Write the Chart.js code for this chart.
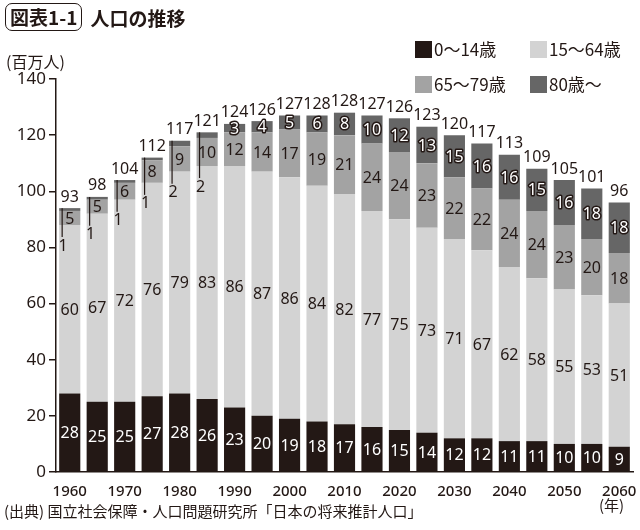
<!DOCTYPE html>
<html>
<head>
<meta charset="utf-8">
<script src="https://cdn.jsdelivr.net/npm/chart.js@4.4.1/dist/chart.umd.min.js"></script>
<style>
body { margin: 0; background: #fff; color: #231815; font-family: "Noto Sans CJK JP", "Noto Sans", sans-serif; }
#wrap { position: relative; width: 640px; height: 530px; overflow: hidden; }
#grafik { position: absolute; left: 0; top: 0; }
.judul { position: absolute; left: 5px; top: 3px; font-size: 19px; font-weight: bold; display: flex; align-items: center; }
.judul .no { border: 1.5px solid #231815; border-radius: 7px; padding: 0 4px; line-height: 26px; margin-right: 8px; }
.satuan { position: absolute; left: 6px; top: 49px; font-size: 16px; }
.legenda { position: absolute; left: 415px; top: 37px; display: grid; grid-template-columns: 115px 110px; row-gap: 11px; font-size: 17px; }
.legenda span { display: flex; align-items: center; line-height: 24px; }
.legenda i { display: inline-block; width: 17px; height: 17px; margin-right: 2px; }
.tahun { position: absolute; left: 599px; top: 494px; font-size: 15px; }
.sumber { position: absolute; left: 4px; top: 500px; font-size: 15px; }
</style>
</head>
<body>
<div id="wrap">
  <canvas id="grafik" width="640" height="530"></canvas>
  <div class="judul"><span class="no">図表1-1</span>人口の推移</div>
  <div class="satuan">(百万人)</div>
  <div class="legenda">
    <span><i style="background:#231815"></i>0〜14歳</span>
    <span><i style="background:#d3d3d3"></i>15〜64歳</span>
    <span><i style="background:#a3a3a3"></i>65〜79歳</span>
    <span><i style="background:#666666"></i>80歳〜</span>
  </div>
  <div class="tahun">(年)</div>
  <div class="sumber">(出典) 国立社会保障・人口問題研究所「日本の将来推計人口」</div>
</div>
<script>
const tahun = ['1960', '1965', '1970', '1975', '1980', '1985', '1990', '1995', '2000', '2005', '2010',
  '2015', '2020', '2025', '2030', '2035', '2040', '2045', '2050', '2055', '2060'];
const usia0_14 = [28, 25, 25, 27, 28, 26, 23, 20, 19, 18, 17, 16, 15, 14, 12, 12, 11, 11, 10, 10, 9];
const usia15_64 = [60, 67, 72, 76, 79, 83, 86, 87, 86, 84, 82, 77, 75, 73, 71, 67, 62, 58, 55, 53, 51];
const usia65_79 = [5, 5, 6, 8, 9, 10, 12, 14, 17, 19, 21, 24, 24, 23, 22, 22, 24, 24, 23, 20, 18];
const usia80 = [1, 1, 1, 1, 2, 2, 3, 4, 5, 6, 8, 10, 12, 13, 15, 16, 16, 15, 16, 18, 18];
const total = [93, 98, 104, 112, 117, 121, 124, 126, 127, 128, 128, 127, 126, 123, 120, 117, 113, 109, 105, 101, 96];
const tickY = [0, 20, 40, 60, 80, 100, 120, 140];

const hitam = '#231815';
const hurufAngka = '"Noto Sans", "Noto Sans CJK JP", sans-serif';

// label angka di setiap segmen + total di atas batang
const labelBatang = {
  id: 'labelBatang',
  afterDatasetsDraw(chart) {
    const ctx = chart.ctx;
    ctx.save();
    ctx.textAlign = 'center';
    ctx.textBaseline = 'middle';
    ctx.font = '16px ' + hurufAngka;
    chart.data.datasets.forEach((ds, d) => {
      const meta = chart.getDatasetMeta(d);
      meta.data.forEach((bar, i) => {
        const v = ds.data[i];
        const p = bar.getProps(['x', 'y', 'base', 'width'], true);
        const tengah = (p.y + p.base) / 2;
        if (d === 0) {
          ctx.fillStyle = '#fff';
          ctx.fillText(v, p.x, tengah + 1);
        } else if (d === 1 || d === 2) {
          ctx.fillStyle = hitam;
          ctx.fillText(v, p.x, tengah + 1);
        } else {
          if (v <= 2) {
            // garis penunjuk untuk nilai kecil
            const bawah65 = chart.getDatasetMeta(1).data[i].y;
            const ly = bawah65 + 21;
            const lx = p.x - p.width / 2 + 3;
            ctx.strokeStyle = hitam;
            ctx.lineWidth = 1.2;
            ctx.beginPath();
            ctx.moveTo(lx, p.y);
            ctx.lineTo(lx, ly - 9);
            ctx.stroke();
            ctx.fillStyle = hitam;
            ctx.fillText(v, lx + 1, ly);
          } else {
            ctx.lineWidth = 3;
            ctx.lineJoin = 'round';
            ctx.strokeStyle = hitam;
            ctx.strokeText(v, p.x, tengah + 1);
            ctx.fillStyle = '#fff';
            ctx.fillText(v, p.x, tengah + 1);
          }
          ctx.fillStyle = hitam;
          ctx.fillText(total[i], p.x, p.y - 11);
        }
      });
    });
    ctx.restore();
  }
};

const ctx = document.getElementById('grafik').getContext('2d');
const chart = new Chart(ctx, {
  type: 'bar',
  data: {
    labels: tahun,
    datasets: [
      { label: '0〜14歳', data: usia0_14, backgroundColor: hitam },
      { label: '15〜64歳', data: usia15_64, backgroundColor: '#d3d3d3' },
      { label: '65〜79歳', data: usia65_79, backgroundColor: '#a3a3a3' },
      { label: '80歳〜', data: usia80, backgroundColor: '#666666' }
    ]
  },
  options: {
    responsive: false,
    animation: false,
    devicePixelRatio: 1,
    barPercentage: 0.77,
    categoryPercentage: 1,
    layout: { padding: { top: 79, right: 7, left: 0, bottom: 0 } },
    plugins: {
      legend: { display: false },
      tooltip: { enabled: false }
    },
    scales: {
      x: {
        stacked: true,
        grid: { display: false },
        border: { display: true, color: hitam, width: 1.5 },
        ticks: {
          autoSkip: false,
          maxRotation: 0,
          color: hitam,
          padding: 3,
          font: { family: hurufAngka, size: 15, weight: '500' },
          callback: (v, i) => (i % 2 === 0 ? tahun[i] : '')
        },
        afterFit(s) { s.height = 58; }
      },
      y: {
        stacked: true,
        min: 0,
        max: 140,
        afterBuildTicks(s) { s.ticks = tickY.map(v => ({ value: v })); },
        grid: { drawOnChartArea: false, tickLength: 7, color: hitam, lineWidth: 1.5 },
        border: { color: hitam, width: 1.5 },
        ticks: { color: hitam, padding: 3, font: { family: hurufAngka, size: 17 } },
        afterFit(s) { s.width = 56; }
      }
    }
  },
  plugins: [labelBatang]
});
</script>
</body>
</html>
